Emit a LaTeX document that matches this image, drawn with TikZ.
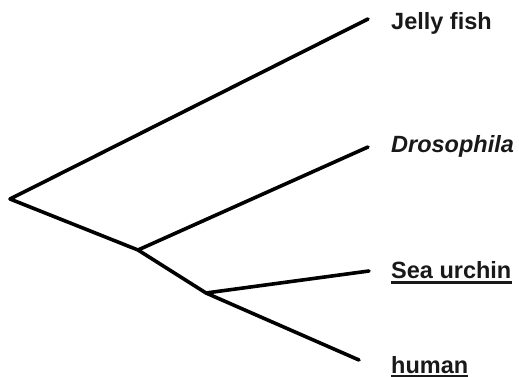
\documentclass[tikz,border=0pt]{standalone}
\usepackage{fontspec}
\setmainfont{Liberation Sans}
\begin{document}
\begin{tikzpicture}[x=1pt,y=-1pt,
  branch/.style={line width=3.6pt,line cap=round,line join=round,black},
  taxon/.style={anchor=base west,inner sep=0pt,font=\fontsize{23.5}{28}\selectfont\bfseries,text=black!90},
  uline/.style={line width=2.4pt,black!90}]
\useasboundingbox (0,0) rectangle (519,377);
% internal nodes of the tree
\coordinate (root) at (10,199);
\coordinate (n1) at (138,250);
\coordinate (n2) at (206,293);
% leaf tips
\coordinate (t1) at (368,19);
\coordinate (t2) at (368,147);
\coordinate (t3) at (369,271);
\coordinate (t4) at (359,360);
% branches
\draw[branch] (t1) -- (root) -- (n1) -- (n2) -- (t4);
\draw[branch] (n1) -- (t2);
\draw[branch] (n2) -- (t3);
% taxon labels
\node[taxon] (l1) at (391,29.5) {Jelly fish};
\node[taxon] (l2) at (391,152) {\itshape Drosophila};
\node[taxon] (l3) at (391,278) {Sea urchin};
\node[taxon] (l4) at (391,373.5) {human};
% underlines (yshift is in page units, so negative moves down)
\draw[uline] ([yshift=-4.5pt]l3.base west) -- ([yshift=-4.5pt]l3.base east);
\draw[uline] ([yshift=-3pt]l4.base west) -- ([yshift=-3pt]l4.base east);
\end{tikzpicture}
\end{document}
